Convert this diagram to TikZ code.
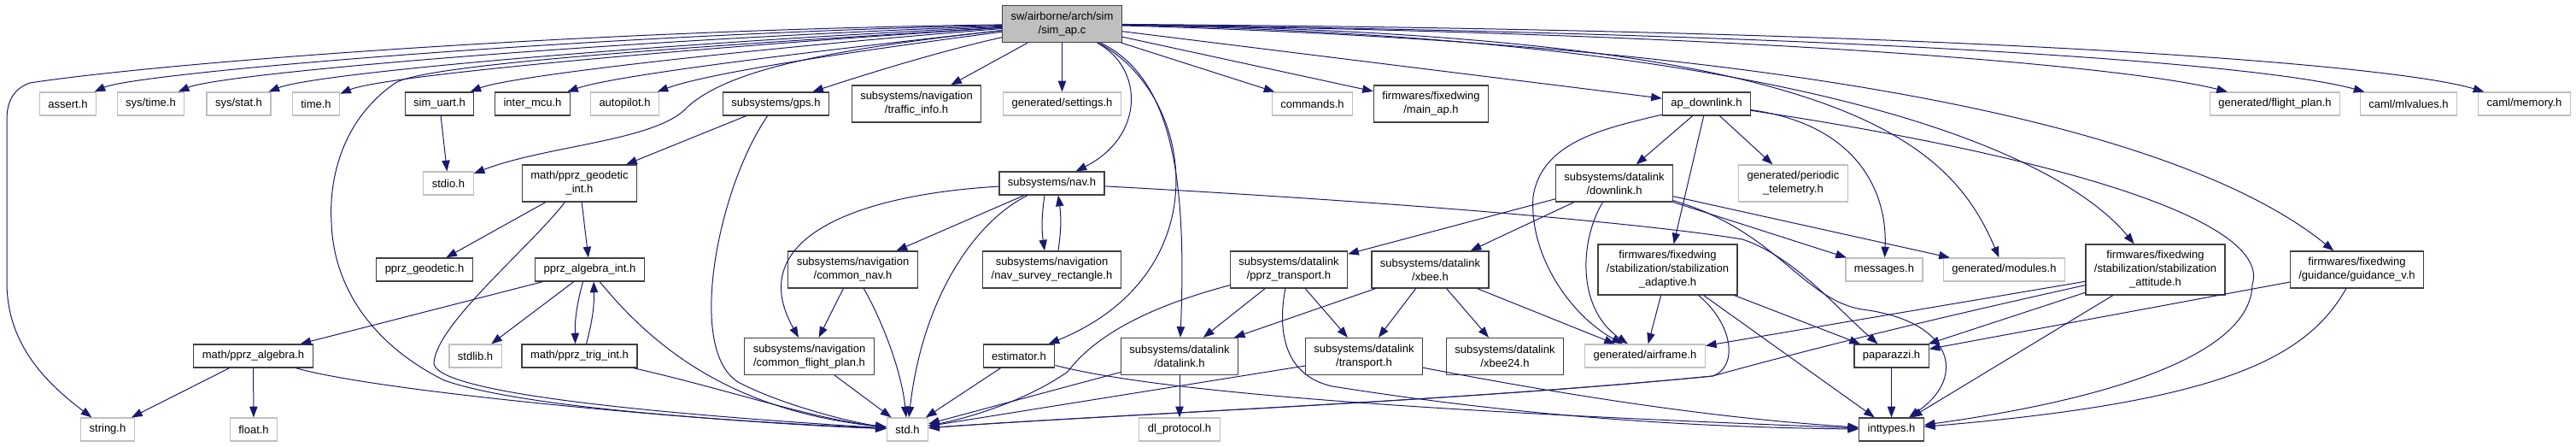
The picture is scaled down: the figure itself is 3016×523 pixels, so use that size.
\documentclass[tikz,border=0pt]{standalone}
\usepackage{fontspec}
\setmainfont{Liberation Sans}
\usetikzlibrary{arrows.meta}
\definecolor{linkblue}{HTML}{191970}
\definecolor{boxdark}{HTML}{404040}
\definecolor{boxlight}{HTML}{BFBFBF}

\begin{document}
\begin{tikzpicture}[
    x=0.75pt, y=-0.75pt,
    dochdr/.style={draw=boxdark, line width=0.9pt, fill=white, align=center,
                   inner xsep=7.5pt, inner ysep=3pt, minimum height=20.25pt,
                   font=\fontsize{9.75}{12}\selectfont},
    syshdr/.style={dochdr, draw=boxlight},
    mainfile/.style={dochdr, fill=boxlight},
    twoline/.style={minimum height=32.25pt},
    threeline/.style={minimum height=44.25pt},
    incl/.style={->, draw=linkblue, line width=0.75pt},
    >={Triangle[length=9.5pt,width=7pt]}
]
\useasboundingbox (0,0) rectangle (3016,523);
% ============== the file itself ==================
\node[mainfile,twoline] (simap) at (1243.5,28) {sw/airborne/arch/sim\\/sim\_ap.c};
% ============== first level of includes ==================
\node[syshdr] (assert)   at (79.5,121.5)  {assert.h};
\node[syshdr] (systime)  at (176.5,121.5) {sys/time.h};
\node[syshdr] (sysstat)  at (279.5,121.5) {sys/stat.h};
\node[syshdr] (timeh)    at (370,121.5)   {time.h};
\node[dochdr] (simuart)  at (514.5,121.5) {sim\_uart.h};
\node[dochdr] (intermcu) at (623.5,121.5) {inter\_mcu.h};
\node[syshdr] (autopilot) at (731.5,121.5) {autopilot.h};
\node[dochdr] (gps)      at (908.5,121.5) {subsystems/gps.h};
\node[dochdr,twoline] (traffic) at (1073,121.5) {subsystems/navigation\\/traffic\_info.h};
\node[syshdr] (settings) at (1243.5,121.5) {generated/settings.h};
\node[syshdr] (commands) at (1536.5,121.5) {commands.h};
\node[dochdr,twoline] (mainap) at (1675.5,121.5) {firmwares/fixedwing\\/main\_ap.h};
\node[dochdr] (apdown)   at (1998,121.5)  {ap\_downlink.h};
\node[syshdr] (flightplan) at (2663.5,121.5) {generated/flight\_plan.h};
\node[syshdr] (mlvalues) at (2820,121.5)  {caml/mlvalues.h};
\node[syshdr] (memory)   at (2955.5,121.5) {caml/memory.h};
% ============== second level ==================
\node[syshdr] (stdio)    at (525,214.5)   {stdio.h};
\node[dochdr,twoline] (geodint) at (678.5,214.5) {math/pprz\_geodetic\\\_int.h};
\node[dochdr] (nav)      at (1231.5,214.5) {subsystems/nav.h};
\node[dochdr,twoline] (downlink) at (1890,214.5) {subsystems/datalink\\/downlink.h};
\node[syshdr,twoline] (periodic) at (2099.5,214.5) {generated/periodic\\\_telemetry.h};
% ============== third level ==================
\node[dochdr] (geodetic) at (497,315.5)   {pprz\_geodetic.h};
\node[dochdr] (algint)   at (690.5,315.5) {pprz\_algebra\_int.h};
\node[dochdr,twoline] (commonnav) at (998.5,315.5) {subsystems/navigation\\/common\_nav.h};
\node[dochdr,twoline] (survey) at (1231.5,315.5) {subsystems/navigation\\/nav\_survey\_rectangle.h};
\node[dochdr,twoline] (pprztrans) at (1509,315.5) {subsystems/datalink\\/pprz\_transport.h};
\node[dochdr,twoline] (xbee) at (1674.5,315.5) {subsystems/datalink\\/xbee.h};
\node[dochdr,threeline] (stabadapt) at (1952.5,315.5) {firmwares/fixedwing\\/stabilization/stabilization\\\_adaptive.h};
\node[syshdr] (messages) at (2206,315.5)  {messages.h};
\node[syshdr] (modules)  at (2346.5,315.5) {generated/modules.h};
\node[dochdr,threeline] (stabatt) at (2523.5,315.5) {firmwares/fixedwing\\/stabilization/stabilization\\\_attitude.h};
\node[dochdr,twoline] (guidance) at (2759.5,315.5) {firmwares/fixedwing\\/guidance/guidance\_v.h};
% ============== fourth level ==================
\node[dochdr] (algebra)  at (296.5,416.5) {math/pprz\_algebra.h};
\node[syshdr] (stdlib)   at (556.5,416.5) {stdlib.h};
\node[dochdr] (trigint)  at (678.5,416.5) {math/pprz\_trig\_int.h};
\node[dochdr,twoline] (commonfp) at (947.5,417) {subsystems/navigation\\/common\_flight\_plan.h};
\node[dochdr] (estimator) at (1193,416.5) {estimator.h};
\node[dochdr,twoline] (datalink) at (1381,417) {subsystems/datalink\\/datalink.h};
\node[dochdr,twoline] (transport) at (1597,417) {subsystems/datalink\\/transport.h};
\node[dochdr,twoline] (xbeetf) at (1762,417) {subsystems/datalink\\/xbee24.h};
\node[syshdr] (airframe) at (1926,416.5)  {generated/airframe.h};
\node[dochdr] (paparazzi) at (2214.5,416.5) {paparazzi.h};
% ============== bottom row ==================
\node[syshdr] (string)   at (126,502.5)   {string.h};
\node[syshdr] (float)    at (297,502.5)   {float.h};
\node[syshdr] (std)      at (1062.5,502.5) {std.h};
\node[syshdr] (dlproto)  at (1381,502.5)  {dl\_protocol.h};
\node[dochdr] (inttypes) at (2214.5,502.5) {inttypes.h};

% ============== includes of sim_ap.c ==================
\draw[incl] (simap) .. controls (700,35) and (200,72) .. (35,97) .. controls (15,104) and (8,120) .. (8,140) -- (8,330) .. controls (8,400) and (50,445) .. (string);
\draw[incl] (simap) .. controls (700,40) and (160,85) .. (assert);
\draw[incl] (simap) .. controls (750,45) and (260,85) .. (systime);
\draw[incl] (simap) .. controls (780,50) and (370,85) .. (sysstat);
\draw[incl] (simap) .. controls (820,55) and (450,88) .. (timeh);
\draw[incl] (simap) .. controls (900,55) and (600,88) .. (simuart);
\draw[incl] (simap) .. controls (950,60) and (720,88) .. (intermcu);
\draw[incl] (simap) .. controls (1000,60) and (830,85) .. (autopilot);
\draw[incl] (simap) .. controls (950,60) and (850,85) .. (805,125) .. controls (770,165) and (640,170) .. (stdio);
\draw[incl] (simap) .. controls (1100,60) and (1010,88) .. (gps);
\draw[incl] (simap) -- (traffic);
\draw[incl] (simap) -- (settings);
\draw[incl] (simap) .. controls (1340,80) and (1340,160) .. (nav);
\draw[incl] (simap) .. controls (1370,90) and (1390,200) .. (datalink);
\draw[incl] (simap) .. controls (1400,110) and (1430,320) .. (estimator);
\draw[incl] (simap) .. controls (800,55) and (500,75) .. (463,97) .. controls (400,140) and (385,210) .. (388,260) .. controls (390,330) and (430,400) .. (520,445) .. controls (620,480) and (900,495) .. (std);
\draw[incl] (simap) -- (commands);
\draw[incl] (simap) -- (mainap);
\draw[incl] (simap) -- (apdown);
\draw[incl] (simap) .. controls (2150,40) and (2280,160) .. (modules);
\draw[incl] (simap) .. controls (2150,45) and (2420,190) .. (stabatt);
\draw[incl] (simap) .. controls (2200,55) and (2580,170) .. (guidance);
\draw[incl] (simap) .. controls (2100,40) and (2500,80) .. (flightplan);
\draw[incl] (simap) .. controls (2200,40) and (2650,75) .. (mlvalues);
\draw[incl] (simap) .. controls (2300,35) and (2800,75) .. (memory);
% ============== math and gps ==================
\draw[incl] (simuart) -- (stdio);
\draw[incl] (gps) -- (geodint);
\draw[incl] (gps) .. controls (840,220) and (800,420) .. (870,450) .. controls (920,475) and (1000,495) .. (std);
\draw[incl] (geodint) -- (geodetic);
\draw[incl] (geodint) -- (algint);
\draw[incl] (geodint) .. controls (620,290) and (510,380) .. (508,425) .. controls (510,455) and (700,480) .. (std);
\draw[incl] (algint) -- (algebra);
\draw[incl] (algint) -- (stdlib);
\draw[incl] ([xshift=-6pt]algint.south) to[bend right=8] ([xshift=-3.75pt]trigint.north);
\draw[incl] ([xshift=6pt]trigint.north) to[bend right=8] ([xshift=3.5pt]algint.south);
\draw[incl] (algint) .. controls (760,400) and (850,480) .. (std);
\draw[incl] (trigint) .. controls (850,455) and (950,490) .. (std);
\draw[incl] (algebra) -- (string);
\draw[incl] (algebra) -- (float);
\draw[incl] (algebra) .. controls (450,460) and (850,495) .. (std);
% ============== navigation ==================
\draw[incl] (nav) -- (commonnav);
\draw[incl] ([xshift=-6.4pt]nav.south) to[bend right=8] ([xshift=-6.4pt]survey.north);
\draw[incl] ([xshift=5.6pt]survey.north) to[bend right=8] ([xshift=5.6pt]nav.south);
\draw[incl] (nav) .. controls (1140,260) and (1080,350) .. (std);
\draw[incl] (nav) .. controls (1000,228) and (870,280) .. (commonfp);
\draw[incl] (nav) .. controls (1700,240) and (1950,265) .. (2040,280) .. controls (2100,300) and (2150,360) .. (paparazzi);
\draw[incl] (commonnav) -- (commonfp);
\draw[incl] (commonnav) .. controls (1030,370) and (1055,430) .. (std);
\draw[incl] (commonfp) -- (std);
\draw[incl] (estimator) -- (std);
\draw[incl] (estimator) .. controls (1400,470) and (1900,490) .. (inttypes);
% ============== datalink ==================
\draw[incl] (datalink) -- (dlproto);
\draw[incl] (datalink) -- (std);
\draw[incl] (pprztrans) -- (datalink);
\draw[incl] (pprztrans) -- (transport);
\draw[incl] (pprztrans) .. controls (1340,360) and (1280,395) .. (1250,435) .. controls (1200,470) and (1130,490) .. (std);
\draw[incl] (pprztrans) .. controls (1495,390) and (1505,440) .. (1560,452) .. controls (1800,490) and (2000,500) .. (inttypes);
\draw[incl] (xbee) -- (datalink);
\draw[incl] (xbee) -- (transport);
\draw[incl] (xbee) -- (xbeetf);
\draw[incl] (xbee) -- (airframe);
\draw[incl] (transport) -- (std);
\draw[incl] (transport) .. controls (1900,475) and (2050,492) .. (inttypes);
\draw[incl] (downlink) -- (pprztrans);
\draw[incl] (downlink) -- (xbee);
\draw[incl] (downlink) .. controls (1850,280) and (1845,360) .. (airframe);
\draw[incl] (downlink) -- (messages);
\draw[incl] (downlink) -- (modules);
\draw[incl] (downlink) .. controls (2080,270) and (2110,350) .. (2180,362) .. controls (2285,375) and (2305,440) .. (inttypes);
% ============== ap_downlink and fixedwing ==================
\draw[incl] (apdown) -- (downlink);
\draw[incl] (apdown) -- (stabadapt);
\draw[incl] (apdown) -- (periodic);
\draw[incl] (apdown) .. controls (1880,150) and (1805,165) .. (1795,230) .. controls (1790,300) and (1840,370) .. (airframe);
\draw[incl] (apdown) .. controls (2170,145) and (2210,220) .. (messages);
\draw[incl] (apdown) .. controls (2420,185) and (2660,260) .. (2637,333) .. controls (2635,420) and (2450,470) .. (inttypes);
\draw[incl] (stabadapt) -- (airframe);
\draw[incl] (stabadapt) -- (paparazzi);
\draw[incl] (stabadapt) -- (inttypes);
\draw[incl] (stabadapt) .. controls (2030,380) and (2035,430) .. (2005,440) .. controls (1700,470) and (1300,485) .. (std);
\draw[incl] (stabatt) -- (airframe);
\draw[incl] (stabatt) -- (paparazzi);
\draw[incl] (stabatt) -- (inttypes);
\draw[incl] (stabatt) .. controls (2300,365) and (2150,400) .. (2005,440) .. controls (1700,470) and (1300,485) .. (std);
\draw[incl] (guidance) -- (paparazzi);
\draw[incl] (guidance) .. controls (2700,420) and (2600,470) .. (inttypes);
\draw[incl] (paparazzi) -- (inttypes);
\end{tikzpicture}
\end{document}
